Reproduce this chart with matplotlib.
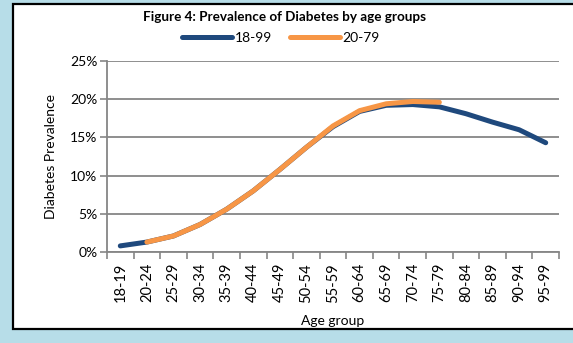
import matplotlib
matplotlib.use("Agg")
import matplotlib.pyplot as plt
from matplotlib.patches import Rectangle
from matplotlib.ticker import FixedLocator, PercentFormatter

#--------------------------------------------------------------------------------------
# data
#--------------------------------------------------------------------------------------
age_groups = ["18-19", "20-24", "25-29", "30-34", "35-39", "40-44", "45-49", "50-54",
              "55-59", "60-64", "65-69", "70-74", "75-79", "80-84", "85-89", "90-94", "95-99"]
prev_18_99 = [0.8, 1.3, 2.1, 3.6, 5.6, 8.0, 10.8, 13.7, 16.4, 18.4, 19.2, 19.3, 19.0,
              18.1, 17.0, 16.0, 14.3]
prev_20_79 = [None, 1.3, 2.1, 3.6, 5.6, 8.0, 10.8, 13.7, 16.5, 18.5, 19.4, 19.7, 19.6]

plt.rcParams['font.family'] = ['Lato', 'DejaVu Sans']

fig = plt.figure(figsize=(5.73, 3.43), dpi=100)
fig.patch.set_facecolor("#B7DDE8")

# white chart box with black frame
fig.patches.append(Rectangle((13/573, 14/343), 1.0, 325/343, transform=fig.transFigure,
                             facecolor="white", edgecolor="black", linewidth=1.6, zorder=-10))

ax = fig.add_axes([107/573, 91/343, 452/573, 191/343])
ax.set_facecolor("white")

x_all = list(range(len(age_groups)))
x_2079 = [i for i, v in enumerate(prev_20_79) if v is not None]
y_2079 = [v for v in prev_20_79 if v is not None]

ax.plot(x_all, prev_18_99, color="#1F497D", lw=3.6, solid_capstyle="round", label="18-99", zorder=3)
ax.plot(x_2079, y_2079, color="#F79646", lw=3.6, solid_capstyle="round", label="20-79", zorder=4)

ax.set_xlim(-0.5, len(age_groups) - 0.5)
ax.set_ylim(0, 25)
ax.yaxis.set_major_locator(FixedLocator([0, 5, 10, 15, 20, 25]))
ax.yaxis.set_major_formatter(PercentFormatter(decimals=0))
ax.grid(axis="y", color="#868686", lw=1.3)
ax.set_axisbelow(True)

ax.set_xticks(x_all)
ax.set_xticklabels(age_groups, rotation=90, fontsize=10.5)
ax.tick_params(axis="x", which="major", length=0, pad=8)
ax.set_xticks([i - 0.5 for i in range(len(age_groups) + 1)], minor=True)
ax.tick_params(axis="x", which="minor", length=5, color="#868686", width=1.2)
ax.tick_params(axis="y", length=5, color="#868686", width=1.2, labelsize=10, pad=2)

for s in ["top", "right"]:
    ax.spines[s].set_visible(False)
for s in ["left", "bottom"]:
    ax.spines[s].set_color("#868686")
    ax.spines[s].set_linewidth(1.3)

ax.set_xlabel("Age group", fontsize=10, labelpad=9)
ax.set_ylabel("Diabetes Prevalence", fontsize=10, labelpad=9)

fig.text(0.497, 0.95, "Figure 4: Prevalence of Diabetes by age groups", ha="center", va="center",
         fontsize=9.7, fontweight="bold")
fig.legend(loc="center", bbox_to_anchor=(0.49, 0.889), ncol=2, frameon=False, fontsize=10,
           handlelength=3.6, columnspacing=1.3, handletextpad=0.2)

plt.savefig("out.png", dpi=100)
